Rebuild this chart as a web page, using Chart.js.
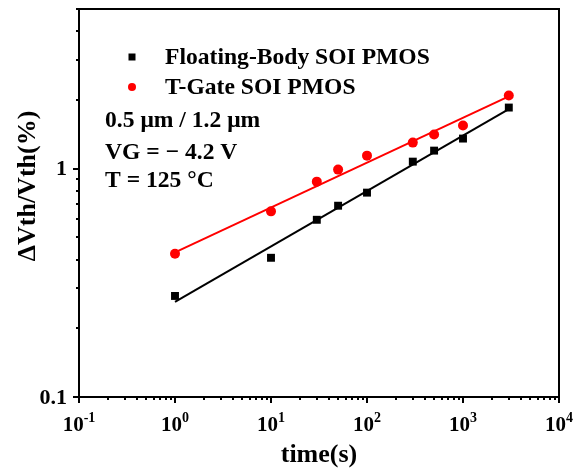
<!DOCTYPE html>
<html lang="en">
<head>
    <meta charset="UTF-8">
    <title>Threshold voltage shift vs time</title>
    <script src="https://cdn.jsdelivr.net/npm/chart.js@4.4.1/dist/chart.umd.min.js"></script>
    <style>
        body { margin: 0; background: #fff; }
        #wrap { width: 576px; height: 472px; }
    </style>
</head>
<body>
    <div id="wrap"><canvas id="vthChart"></canvas></div>

    <script>
        const times = [1, 10, 30, 50, 100, 300, 500, 1000, 3000];
        const floatingBody = [0.277, 0.407, 0.597, 0.688, 0.785, 1.073, 1.199, 1.354, 1.851];
        const tGate = [0.424, 0.650, 0.877, 0.990, 1.140, 1.300, 1.410, 1.544, 2.090];

        // fitted lines
        const fitTimes = [1, 3000];
        const floatingBodyFit = [0.261, 1.82];
        const tGateFit = [0.43, 2.07];

        // axis ticks
        const xMajorTicks = [0.1, 1, 10, 100, 1000, 10000];
        const xTickExponents = ['-1', '0', '1', '2', '3', '4'];
        const yMajorTicks = [0.1, 1];
        const yTickLabels = ['0.1', '1'];

        const seriesNames = ['Floating-Body SOI PMOS', 'T-Gate SOI PMOS'];
        const notes = ['0.5 \u03bcm / 1.2 \u03bcm', 'VG = \u2212 4.2 V', 'T = 125 \u00b0C'];

        const FONT = "'Liberation Serif', 'Times New Roman', serif";

        function pairs(xs, ys) {
            return xs.map((x, i) => ({ x: x, y: ys[i] }));
        }

        function minorTicks(min, max) {
            const out = [];
            for (let d = min; d < max; d *= 10) {
                for (let k = 2; k <= 9; k++) {
                    const v = d * k;
                    if (v < max * 1.0001) out.push(v);
                }
            }
            return out;
        }

        // frame, ticks, labels, legend and notes
        const decorations = {
            id: 'decorations',
            afterDraw(chart) {
                const ctx = chart.ctx;
                const xs = chart.scales.x;
                const ys = chart.scales.y;
                const a = chart.chartArea;
                ctx.save();
                ctx.strokeStyle = '#000';
                ctx.fillStyle = '#000';
                ctx.lineWidth = 2;
                ctx.strokeRect(a.left, a.top, a.right - a.left, a.bottom - a.top);

                // tick marks
                ctx.beginPath();
                xMajorTicks.forEach(v => {
                    const p = Math.round(xs.getPixelForValue(v));
                    ctx.moveTo(p, a.bottom); ctx.lineTo(p, a.bottom + 6);
                });
                minorTicks(0.1, 10000).forEach(v => {
                    const p = Math.round(xs.getPixelForValue(v));
                    ctx.moveTo(p, a.bottom); ctx.lineTo(p, a.bottom + 3);
                });
                yMajorTicks.forEach(v => {
                    const p = Math.round(ys.getPixelForValue(v));
                    ctx.moveTo(a.left, p); ctx.lineTo(a.left - 6, p);
                });
                minorTicks(0.1, 5).forEach(v => {
                    const p = Math.round(ys.getPixelForValue(v));
                    ctx.moveTo(a.left, p); ctx.lineTo(a.left - 3, p);
                });
                ctx.stroke();

                // x tick labels 10^n
                const baseFont = 'bold 21px ' + FONT;
                const expFont = 'bold 14px ' + FONT;
                ctx.textBaseline = 'alphabetic';
                ctx.textAlign = 'left';
                xMajorTicks.forEach((v, i) => {
                    const p = xs.getPixelForValue(v);
                    ctx.font = baseFont;
                    const w1 = ctx.measureText('10').width;
                    ctx.font = expFont;
                    const w2 = ctx.measureText(xTickExponents[i]).width;
                    const x0 = p - (w1 + w2) / 2;
                    ctx.font = baseFont;
                    ctx.fillText('10', x0, a.bottom + 34);
                    ctx.font = expFont;
                    ctx.fillText(xTickExponents[i], x0 + w1, a.bottom + 25);
                });

                // y tick labels
                ctx.font = 'bold 22px ' + FONT;
                ctx.textAlign = 'right';
                ctx.textBaseline = 'middle';
                yMajorTicks.forEach((v, i) => {
                    ctx.fillText(yTickLabels[i], a.left - 12, ys.getPixelForValue(v) + 1);
                });

                // axis titles
                ctx.font = 'bold 26px ' + FONT;
                ctx.textAlign = 'center';
                ctx.textBaseline = 'middle';
                ctx.fillText('time(s)', (a.left + a.right) / 2, 455);
                ctx.save();
                ctx.translate(28, 186);
                ctx.rotate(-Math.PI / 2);
                ctx.fillText('\u0394Vth/Vth(%)', 0, 0);
                ctx.restore();

                // legend
                ctx.font = 'bold 23.6px ' + FONT;
                ctx.textAlign = 'left';
                ctx.textBaseline = 'middle';
                ctx.fillStyle = '#000';
                ctx.fillRect(132 - 3.5, 57 - 3.5, 7, 7);
                ctx.fillText(seriesNames[0], 165, 58);
                ctx.fillStyle = '#ff0000';
                ctx.beginPath();
                ctx.arc(132, 87, 4, 0, Math.PI * 2);
                ctx.fill();
                ctx.fillStyle = '#000';
                ctx.fillText(seriesNames[1], 165, 88);

                // condition notes
                ctx.font = 'bold 23.6px ' + FONT;
                const noteY = [121, 153, 181];
                notes.forEach((t, i) => ctx.fillText(t, 105, noteY[i]));

                ctx.restore();
            }
        };

        const ctx = document.getElementById('vthChart').getContext('2d');
        new Chart(ctx, {
            type: 'scatter',
            data: {
                datasets: [
                    {
                        label: seriesNames[0] + ' fit',
                        data: pairs(fitTimes, floatingBodyFit),
                        showLine: true,
                        borderColor: '#000',
                        borderWidth: 2,
                        pointRadius: 0
                    },
                    {
                        label: seriesNames[1] + ' fit',
                        data: pairs(fitTimes, tGateFit),
                        showLine: true,
                        borderColor: '#ff0000',
                        borderWidth: 2,
                        pointRadius: 0
                    },
                    {
                        label: seriesNames[0],
                        data: pairs(times, floatingBody),
                        pointStyle: 'rect',
                        pointRadius: 5.6,
                        backgroundColor: '#000',
                        borderColor: '#000',
                        borderWidth: 0
                    },
                    {
                        label: seriesNames[1],
                        data: pairs(times, tGate),
                        pointStyle: 'circle',
                        pointRadius: 5,
                        backgroundColor: '#ff0000',
                        borderColor: '#ff0000',
                        borderWidth: 0
                    }
                ]
            },
            options: {
                responsive: true,
                maintainAspectRatio: false,
                animation: false,
                layout: { padding: { top: 9, right: 17, left: 0, bottom: 0 } },
                plugins: {
                    legend: { display: false },
                    tooltip: { enabled: false }
                },
                scales: {
                    x: {
                        type: 'logarithmic',
                        min: 0.1,
                        max: 10000,
                        ticks: { display: false },
                        grid: { display: false },
                        border: { display: false },
                        afterFit: s => { s.height = 75; }
                    },
                    y: {
                        type: 'logarithmic',
                        min: 0.1,
                        max: 5,
                        ticks: { display: false },
                        grid: { display: false },
                        border: { display: false },
                        afterFit: s => { s.width = 79; }
                    }
                }
            },
            plugins: [decorations]
        });
    </script>
</body>
</html>
